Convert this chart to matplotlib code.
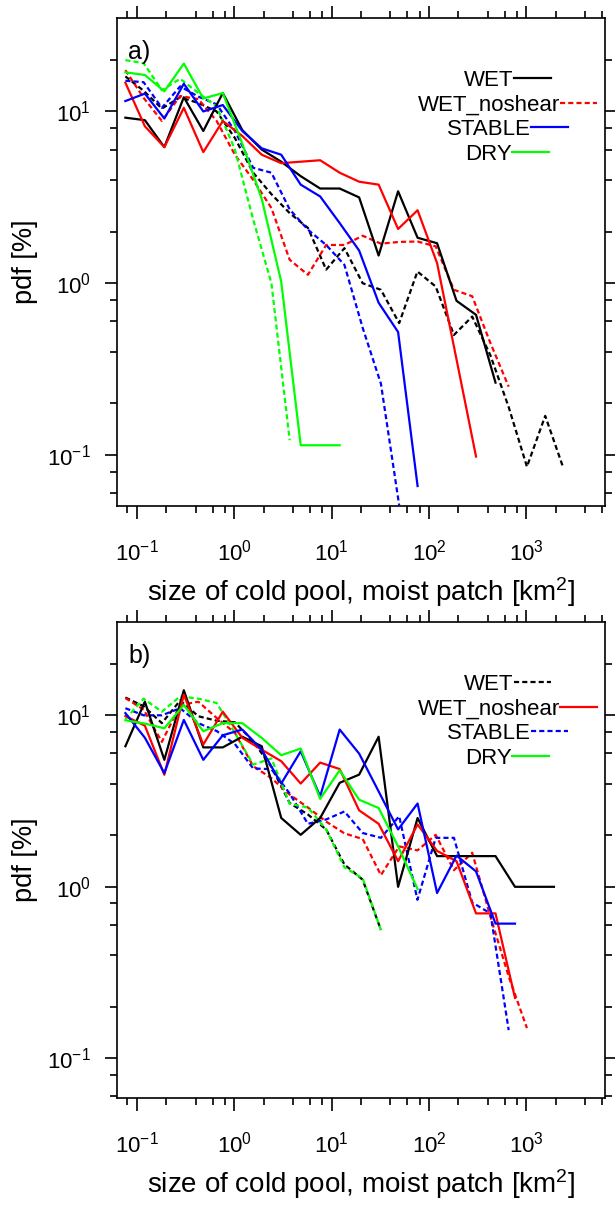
import matplotlib
matplotlib.use("Agg")
import matplotlib.pyplot as plt
from matplotlib.ticker import LogLocator, NullFormatter, LogFormatterSciNotation
from matplotlib.lines import Line2D

plt.rcParams['font.family'] = ['Liberation Sans', 'DejaVu Sans']
plt.rcParams['mathtext.fontset'] = 'custom'
plt.rcParams['mathtext.rm'] = 'Liberation Sans'
plt.rcParams['mathtext.it'] = 'Liberation Sans'
plt.rcParams['axes.unicode_minus'] = False

# bin centres [km^2]: solid = cold pools, dashed = moist patches
x_solid = [0.0762, 0.1208, 0.1914, 0.3034, 0.4808, 0.762, 1.208, 1.914, 3.034, 4.808,
           7.62, 12.08, 19.14, 30.34, 48.08, 76.2, 120.8, 191.4, 303.4, 480.8,
           762, 1208, 1914]
x_dashed = [0.0762, 0.1173, 0.1806, 0.2781, 0.4281, 0.6592, 1.015, 1.563, 2.406, 3.704,
            5.702, 8.778, 13.51, 20.81, 32.03, 49.32, 75.93, 116.9, 180.0, 277.1,
            426.6, 656.8, 1011, 1557, 2397]

names = ["WET", "WET_noshear", "STABLE", "DRY"]
colors = ["black", "#FF0000", "#0000FF", "#00FF00"]

# panel a) pdf [%]
a_wet = [9.2, 8.9, 6.2, 12.1, 7.7, 12.8, 7.8, 6.0, 5.1, 4.2, 3.56, 3.56, 3.16, 1.45,
         3.43, 1.84, 1.71, 0.79, 0.655, 0.264]
a_noshear = [14.7, 8.2, 6.2, 10.5, 5.8, 8.8, 7.2, 5.6, 5.0, 5.1, 5.2, 4.4, 3.9, 3.75,
             2.07, 2.66, 1.31, 0.36, 0.098]
a_stable = [11.5, 12.7, 9.1, 14.5, 10.0, 10.9, 7.7, 6.1, 5.6, 3.75, 3.2, 2.24, 1.55,
            0.77, 0.52, 0.066]
a_dry = [16.9, 16.3, 13.1, 19.0, 11.9, 12.8, 6.5, 3.1, 1.02, 0.114, 0.114, 0.114]

a_wet_m = [16.0, 13.2, 10.4, 12.1, 11.2, 10.0, 7.0, 4.4, 3.3, 2.56, 2.10, 1.2, 1.60,
           1.0, 0.916, 0.586, 1.17, 0.957, 0.50, 0.64, 0.38, 0.19, 0.0855, 0.169, 0.0837]
a_noshear_m = [17.4, 12.0, 8.8, 12.3, 11.8, 8.8, 5.6, 4.0, 2.74, 1.37, 1.12, 1.67, 1.67,
               1.89, 1.70, 1.74, 1.75, 1.64, 0.916, 0.84, 0.448, 0.25]
a_stable_m = [15.1, 14.8, 10.5, 14.0, 12.2, 11.0, 7.7, 4.7, 4.4, 2.69, 2.05, 1.67, 1.28,
              0.55, 0.26, 0.051]
a_dry_m = [19.9, 19.1, 13.3, 15.5, 12.8, 10.7, 6.0, 2.35, 1.0, 0.122]

# panel b) pdf [%]
b_wet = [6.6, 12.0, 5.5, 14.0, 6.5, 6.5, 7.5, 6.6, 2.52, 2.01, 2.52, 4.04, 4.51, 7.5,
         1.0, 2.52, 1.51, 1.51, 1.51, 1.51, 1.0, 1.0, 1.0]
b_noshear = [9.9, 8.7, 4.5, 13.2, 6.75, 10.5, 7.4, 6.3, 5.4, 4.0, 5.3, 4.86, 2.79, 2.33,
             1.41, 2.31, 1.62, 1.41, 0.70, 0.70, 0.225]
b_stable = [10.3, 7.4, 4.6, 9.4, 5.5, 7.65, 8.26, 6.3, 4.0, 6.17, 3.37, 8.26, 5.98, 3.6,
            2.16, 3.06, 0.92, 1.52, 1.23, 0.61, 0.61]
b_dry = [9.35, 8.95, 8.4, 11.5, 8.07, 9.0, 9.0, 7.38, 5.85, 6.4, 3.26, 4.78, 3.22, 2.88,
         1.72, 0.97]

b_wet_m = [12.7, 11.3, 9.0, 12.2, 9.87, 9.3, 9.1, 7.05, 5.0, 3.08, 2.64, 2.16, 1.35,
           1.10, 0.56]
b_noshear_m = [12.6, 10.8, 7.0, 11.5, 12.0, 9.65, 7.9, 5.05, 4.3, 3.45, 2.9, 2.4, 2.05,
               1.9, 1.17, 1.72, 1.63, 2.01, 1.25, 1.58, 0.67, 0.30, 0.15]
b_stable_m = [11.0, 10.0, 10.0, 11.0, 9.0, 8.1, 6.8, 4.9, 4.85, 3.5, 2.33, 2.47, 2.75,
              2.06, 1.93, 2.58, 0.84, 1.93, 1.93, 0.81, 0.70, 0.146]
b_dry_m = [9.5, 12.5, 10.5, 12.9, 12.5, 11.8, 7.9, 5.16, 5.6, 3.05, 2.9, 2.16, 1.3,
           1.12, 0.56]

panels = [
    ("a)", [a_wet, a_noshear, a_stable, a_dry], [a_wet_m, a_noshear_m, a_stable_m, a_dry_m],
     ["-", "--", "-", "-"], 0.0505),
    ("b)", [b_wet, b_noshear, b_stable, b_dry], [b_wet_m, b_noshear_m, b_stable_m, b_dry_m],
     ["--", "-", "--", "-"], 0.0587),
]

dash = (0, (2.3, 1.4))
lw = 1.6
W, H = 615, 1205

fig = plt.figure(figsize=(6.15, 12.05), dpi=100)
# pixel boxes (left, top, right, bottom)
boxes = [(117, 18, 605, 506), (117, 622, 605, 1098)]
axes = [fig.add_axes([l / W, 1 - b / H, (r - l) / W, (b - t) / H]) for l, t, r, b in boxes]

for ax, (l, t, r, b), (tag, solid, dashed, leg_styles, ymin) in zip(axes, boxes, panels):
    h = b - t
    w = r - l
    ax.set_xscale("log")
    ax.set_yscale("log")

    for ys, c in zip(dashed, colors):
        ax.plot(x_dashed[:len(ys)], ys, color=c, lw=lw, linestyle=dash)
    for ys, c in zip(solid, colors):
        ax.plot(x_solid[:len(ys)], ys, color=c, lw=lw)

    ax.set_xlim(0.0625, 6400)
    ax.set_ylim(ymin, 35)

    # NCL style ticks: minors at 2,4,6,8
    for axis in (ax.xaxis, ax.yaxis):
        axis.set_major_locator(LogLocator(base=10, numticks=20))
        axis.set_minor_locator(LogLocator(base=10, subs=(2, 4, 6, 8), numticks=20))
        axis.set_minor_formatter(NullFormatter())
        axis.set_major_formatter(LogFormatterSciNotation())
    ax.tick_params(which="both", direction="out", top=True, right=True, width=1.2,
                   labelsize=16, color="black")
    ax.tick_params(which="major", length=9)
    ax.tick_params(which="minor", length=5)
    ax.tick_params(axis="x", which="major", pad=15)
    ax.tick_params(axis="y", which="major", pad=10)
    for sp in ax.spines.values():
        sp.set_linewidth(1.2)

    ax.set_xlabel("size of cold pool, moist patch [km$^2$]", fontsize=20, labelpad=7)
    ax.set_ylabel("pdf [%]", fontsize=19.5, labelpad=6)
    ax.text(11 / w, 1 - 34 / h, tag, transform=ax.transAxes, fontsize=18,
            ha="left", va="center")

    # legend: centred text followed by a short line
    fig.canvas.draw()
    renderer = fig.canvas.get_renderer()
    for i, (name, c, ls) in enumerate(zip(names, colors, leg_styles)):
        yrow = 1 - (60 + 24.5 * i) / h
        txt = ax.text(0.762, yrow - 8 / h, name, transform=ax.transAxes, fontsize=16,
                      ha="center", va="baseline")
        bb = txt.get_window_extent(renderer=renderer).transformed(ax.transAxes.inverted())
        ax.add_line(Line2D([bb.x1, bb.x1 + 37 / w], [yrow, yrow], transform=ax.transAxes,
                           color=c, lw=lw, linestyle=dash if ls == "--" else "-",
                           clip_on=False))

fig.savefig("out.png", dpi=100)
